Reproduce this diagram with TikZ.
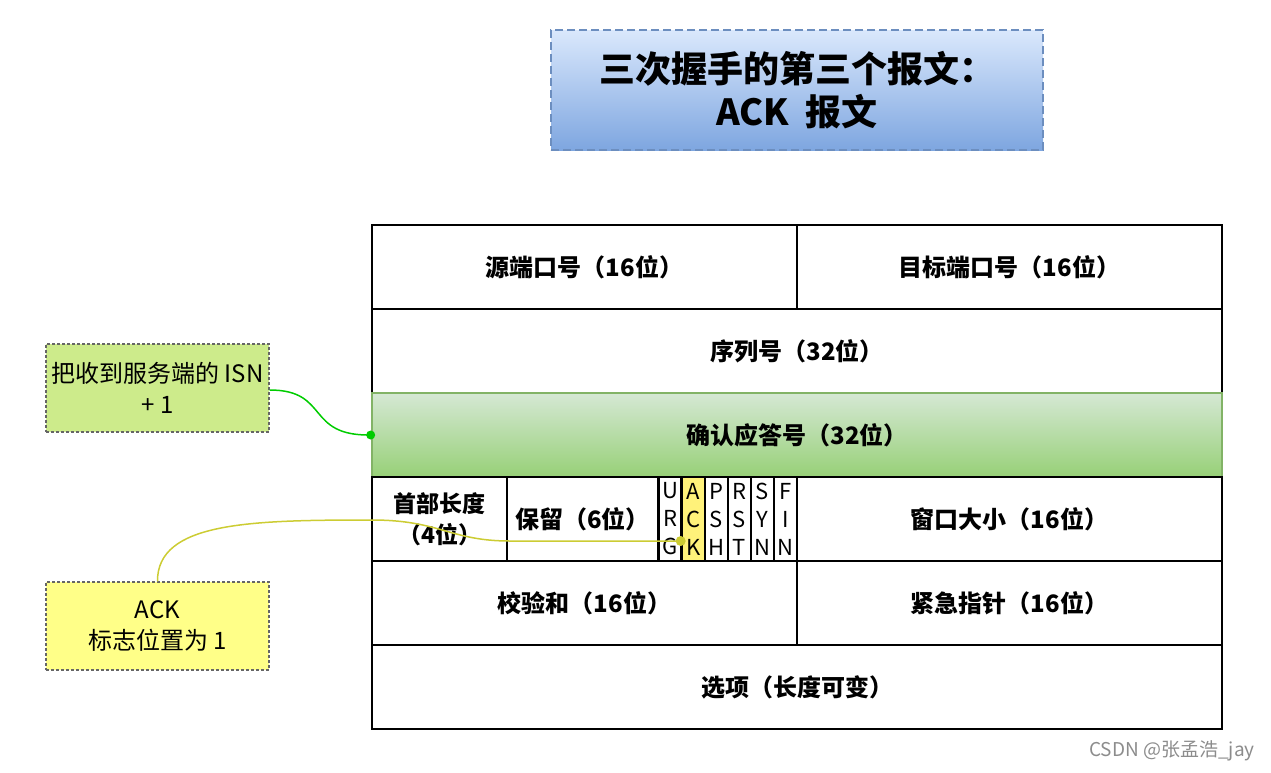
\documentclass[tikz,border=0pt]{standalone}
\usepackage{fontspec}
\setmainfont{Noto Sans CJK SC}
\usepackage{xcolor}
\usepackage{tikz}
\usetikzlibrary{positioning, calc}
\definecolor{titleblue}{HTML}{6C8EBF}
\definecolor{titletop}{HTML}{DAE8FC}
\definecolor{titlebottom}{HTML}{7EA6E0}
\definecolor{acktop}{HTML}{D5E8D4}
\definecolor{ackbottom}{HTML}{97D077}
\definecolor{ackborder}{HTML}{82B366}
\definecolor{notegreen}{HTML}{CDEB8B}
\definecolor{noteyellow}{HTML}{FFFF88}
\definecolor{flagyellow}{HTML}{FFF27A}
\definecolor{linkgreen}{HTML}{00CC00}
\definecolor{linkyellow}{HTML}{CCCC33}
\tikzstyle{cell} = [
    rectangle,
    draw=black,
    line width=2.6pt,
    fill=white,
    minimum height=84pt,
    text centered,
    inner sep=0pt,
    font=\fontsize{24}{30}\selectfont\bfseries
]
\tikzstyle{flag} = [
    cell,
    minimum width=23pt,
    align=center,
    font=\fontsize{22}{28}\selectfont
]
\tikzstyle{note} = [
    rectangle,
    draw=black!60,
    line width=1.2pt,
    dash pattern=on 3pt off 2pt,
    minimum width=223pt,
    minimum height=88pt,
    align=center,
    font=\fontsize{24}{31}\selectfont
]
\tikzstyle{link} = [
    line width=1.5pt
]
\begin{document}
\begin{tikzpicture}[x=1pt, y=-1pt]
    \useasboundingbox (0,0) rectangle (1271,772);
    % Title
    \node[rectangle, draw=titleblue, line width=2pt, dash pattern=on 8pt off 4pt,
          top color=titletop, bottom color=titlebottom,
          minimum width=492pt, minimum height=120pt, align=center,
          font=\fontsize{36}{43}\selectfont\bfseries] (title) at (797,90)
          {三次握手的第三个报文：\\ACK\ \ 报文};

    % Header rows
    \node[cell, minimum width=425pt] (srcport) at (584.5,267) {源端口号（16位）};
    \node[cell, minimum width=425pt] (dstport) at (1009.5,267) {目标端口号（16位）};
    \node[cell, minimum width=850pt] (seq) at (797,351) {序列号（32位）};
    \node[cell, minimum width=850pt, draw=ackborder, top color=acktop, bottom color=ackbottom] (acknum) at (797,435) {确认应答号（32位）};

    % Flags row
    \node[cell, minimum width=135pt, align=center, font=\fontsize{23}{31}\selectfont\bfseries] (hlen) at (439.5,519) {首部长度\\（4位）};
    \node[cell, minimum width=151pt] (resv) at (582.5,519) {保留（6位）};
    \node[flag] (urg) at (670,519) {U\\R\\G};
    \node[flag, fill=flagyellow] (ack) at (693.5,519) {A\\C\\K};
    \node[flag] (psh) at (716.5,519) {P\\S\\H};
    \node[flag] (rst) at (739.5,519) {R\\S\\T};
    \node[flag] (syn) at (762.5,519) {S\\Y\\N};
    \node[flag] (fin) at (785.5,519) {F\\I\\N};
    \node[cell, minimum width=425pt] (window) at (1009.5,519) {窗口大小（16位）};

    % Lower rows
    \node[cell, minimum width=425pt] (checksum) at (584.5,603) {校验和（16位）};
    \node[cell, minimum width=425pt] (urgent) at (1009.5,603) {紧急指针（16位）};
    \node[cell, minimum width=850pt] (options) at (797,687) {选项（长度可变）};

    % Notes
    \node[note, fill=notegreen] (isnnote) at (157.5,388) {把收到服务端的 ISN\\+ 1};
    \node[note, fill=noteyellow] (acknote) at (157.5,626) {ACK\\标志位置为 1};

    % Links
    \coordinate (isnpin) at (acknum.west);
    \coordinate (ackpin) at ($(ack.west)+(0,22)$);
    \draw[link, linkgreen] (isnnote.east |- 0,390) .. controls (330,390) and (305,436) .. (isnpin);
    \fill[linkgreen] (isnpin) circle (4.5pt);
    \draw[link, linkyellow] (acknote.north) .. controls (157,522) and (250,520) .. (372,520)
        .. controls (440,520) and (450,541) .. (510,541) -- (ackpin);
    \fill[linkyellow] (ackpin) circle (5pt);

    % Watermark
    \node[text=black!45, font=\fontsize{19}{22}\selectfont] (mark) at (1172,751) {CSDN @张孟浩\_jay};
\end{tikzpicture}
\end{document}
